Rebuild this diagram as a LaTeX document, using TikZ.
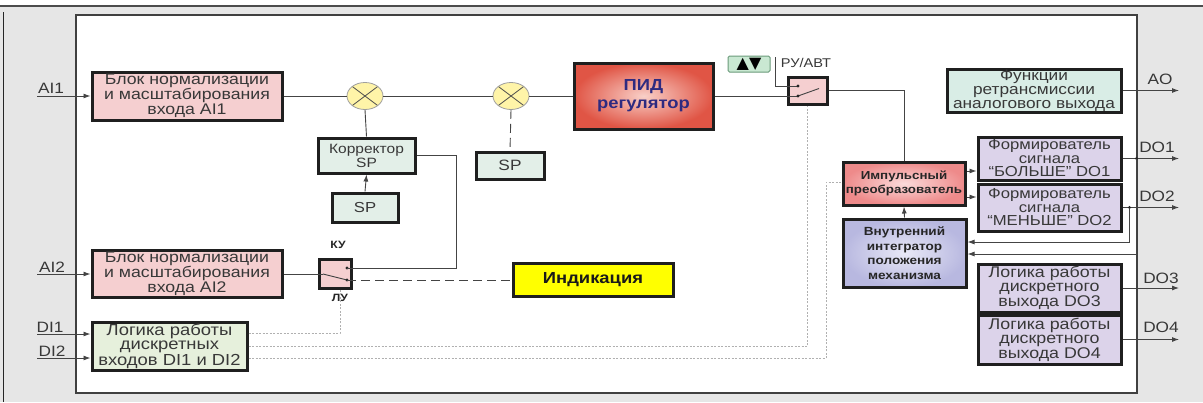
\documentclass[tikz,border=0pt]{standalone}
\usepackage{fontspec}
\setmainfont{Liberation Sans}[FakeStretch=1.15]
\newfontfamily\symfont{DejaVu Sans}
\usetikzlibrary{arrows.meta,shapes.geometric,calc}
\definecolor{pinkA}{HTML}{F5CFD0}
\definecolor{mintA}{HTML}{E3EFE8}
\definecolor{diG}{HTML}{E6F0DC}
\definecolor{tealA}{HTML}{D9EDE6}
\definecolor{lavA}{HTML}{DCD3EA}
\definecolor{sumY}{HTML}{FFF4A8}
\definecolor{pidOut}{HTML}{E05545}
\definecolor{pidIn}{HTML}{F9D0C8}
\definecolor{impOut}{HTML}{EE8A8A}
\definecolor{impIn}{HTML}{FBDADA}
\definecolor{intOut}{HTML}{B8B8E0}
\definecolor{intIn}{HTML}{E8E8F6}
\definecolor{btnG}{HTML}{C9E8D2}
\definecolor{btnB}{HTML}{6A9A7A}
\definecolor{pidTxt}{HTML}{2E2A80}
\definecolor{bgG}{HTML}{E6E6E6}
\definecolor{lnG}{HTML}{444444}
\definecolor{dotG}{HTML}{B0B0B0}
\definecolor{indY}{HTML}{FFFF00}
\begin{document}
\begin{tikzpicture}[x=1pt,y=-1pt,
  blk/.style={draw=black!88, line width=3pt, align=center, inner sep=0pt,
    font=\fontsize{15.4}{15}\selectfont, text=black!78},
  sblk/.style={blk, font=\fontsize{14.5}{13.5}\selectfont},
  bblk/.style={blk, font=\bfseries\fontsize{11.6}{14.5}\selectfont, text=black!85},
  sumj/.style={ellipse, draw=gray!75, line width=0.8pt, fill=sumY, minimum width=36, minimum height=27, inner sep=0pt,
    path picture={\draw[gray!60!black, line width=0.8pt]
      (path picture bounding box.north west) -- (path picture bounding box.south east)
      (path picture bounding box.south west) -- (path picture bounding box.north east);}},
  conn/.style={draw=lnG, line width=0.9pt},
  arr/.style={conn, -{Latex[length=7pt,width=5pt]}},
  dotl/.style={draw=dotG, line width=0.8pt, dash pattern=on 2pt off 1.5pt},
  dashl/.style={draw=lnG, line width=0.9pt, dash pattern=on 9pt off 5pt},
  lbl/.style={font=\fontsize{15}{15}\selectfont, text=black!78, inner sep=0pt},
  klbl/.style={font=\bfseries\fontsize{10.6}{11}\selectfont, text=black!85, inner sep=0pt},
  dotc/.style={fill=black!85}
]
\useasboundingbox (0,0) rectangle (1203,402);
% background frame
\fill[bgG] (0,0) rectangle (1203,402);
\fill[white] (0,0) rectangle (1203,5);
\draw[black!70, line width=2pt] (0,6) -- (1203,6);
\draw[black!85, line width=0.8pt] (3,12) -- (3,402);
\draw[black!75, line width=1.2pt, fill=white] (76,15) rectangle (1137,393);

% blocks
\node[blk, fill=pinkA, minimum width=190, minimum height=48] (ai1) at (187,96) {Блок нормализации\\и масштабирования\\входа AI1};
\node[blk, fill=pinkA, minimum width=190, minimum height=47] (ai2) at (187,274) {Блок нормализации\\и масштабирования\\входа AI2};
\node[blk, fill=diG, minimum width=155, minimum height=48, font=\fontsize{16}{14}\selectfont] (di) at (169.5,346) {Логика работы\\дискретных\\входов DI1 и DI2};
\node[sumj] (s1) at (365,96) {};
\node[sumj] (s2) at (511,96) {};
\node[blk, fill=mintA, minimum width=97, minimum height=35, font=\fontsize{13.5}{14}\selectfont] (kor) at (366.5,155.5) {Корректор\\SP};
\node[blk, fill=mintA, minimum width=66, minimum height=29, font=\fontsize{14.5}{14}\selectfont] (sp1) at (365,207.5) {SP};
\node[blk, fill=mintA, minimum width=68, minimum height=27, font=\fontsize{15}{14}\selectfont] (sp2) at (510,165.5) {SP};
\node[blk, minimum width=139, minimum height=66, inner color=pidIn, outer color=pidOut,
  font=\bfseries\fontsize{16}{18}\selectfont, text=pidTxt] (pid) at (643.5,96) {ПИД\\регулятор};
\node[blk, fill=pinkA, minimum width=39, minimum height=27] (sw1) at (807.5,90.5) {};
\node[draw=btnB, line width=1pt, rounded corners=1.5pt, fill=btnG, minimum width=42, minimum height=16, inner sep=0pt,
  font=\symfont\fontsize{16}{16}\selectfont, text=black] (btn) at (749,64) {▲▼};
\node[lbl, font=\fontsize{12.7}{13}\selectfont] (ruavt) at (806,63) {РУ/АВТ};
\node[blk, fill=pinkA, minimum width=32, minimum height=29] (sw2) at (335,274) {};
\node[klbl] (kul) at (338,245) {КУ};
\node[klbl] (lul) at (340,298) {ЛУ};
\node[blk, fill=indY, minimum width=160, minimum height=33, font=\bfseries\fontsize{16}{16}\selectfont, text=black!90] (ind) at (593,280) {Индикация};
\node[sblk, fill=tealA, minimum width=174, minimum height=43, font=\fontsize{15}{14.2}\selectfont] (fn) at (1034,90.5) {Функции\\ретрансмиссии\\аналогового выхода};
\node[sblk, fill=lavA, minimum width=143, minimum height=43] (do1) at (1049.5,158.5) {Формирователь\\сигнала\\“БОЛЬШЕ” DO1};
\node[sblk, fill=lavA, minimum width=143, minimum height=47] (do2) at (1049.5,207.5) {Формирователь\\сигнала\\“МЕНЬШЕ” DO2};
\node[sblk, fill=lavA, minimum width=143, minimum height=48, font=\fontsize{15.5}{14}\selectfont] (do3) at (1049.5,288) {Логика работы\\дискретного\\выхода DO3};
\node[sblk, fill=lavA, minimum width=143, minimum height=49, font=\fontsize{15.5}{14}\selectfont] (do4) at (1049.5,339.5) {Логика работы\\дискретного\\выхода DO4};
\node[bblk, minimum width=122, minimum height=43, inner color=impIn, outer color=impOut] (imp) at (904,183.5) {Импульсный\\преобразователь};
\node[bblk, minimum width=123, minimum height=68, inner color=intIn, outer color=intOut, font=\bfseries\fontsize{11.8}{14.6}\selectfont] (integ) at (904.5,253) {Внутренний\\интегратор\\положения\\механизма};

% labels
\node[lbl] (lai1) at (51,88) {AI1};
\node[lbl] (lai2) at (52,267) {AI2};
\node[lbl] (ldi1) at (50,327) {DI1};
\node[lbl] (ldi2) at (52,351) {DI2};
\node[lbl] (lao) at (1160,79) {AO};
\node[lbl] (ldo1) at (1157,147) {DO1};
\node[lbl] (ldo2) at (1157,196) {DO2};
\node[lbl] (ldo3) at (1161,278) {DO3};
\node[lbl] (ldo4) at (1161,327) {DO4};

% helper coordinates
\coordinate (xin) at (37,0);
\coordinate (xout) at (1179,0);
\coordinate (ra) at (798,86);
\coordinate (rb) at (798,96);
\coordinate (rblade) at (819,88.5);
\coordinate (rtop) at (775,57);
\coordinate (ku) at (347,268);
\coordinate (lu) at (347,280);
\coordinate (kblade) at (323,274);
\coordinate (kc) at (456,155.5);
\coordinate (d1) at ($(di.east)+(0,-13)$);
\coordinate (d3) at ($(di.east)+(0,12)$);
\coordinate (dc) at (826,182);
\coordinate (impw) at ($(imp.west)+(0,-1.5)$);
\coordinate (im1) at ($(imp.east)+(0,-12.5)$);
\coordinate (im2) at ($(imp.east)+(0,13.5)$);
\coordinate (j1) at ($(do1.east)+(14,0)$);
\coordinate (j2) at ($(do2.east)+(7,0)$);
\coordinate (ig1) at ($(integ.east)+(0,1)$);
\coordinate (ig2) at ($(integ.east)+(0,-11)$);
\coordinate (ai1p) at (ai1.west -| xin);
\coordinate (ai2p) at (ai2.west -| xin);
\coordinate (di1t) at ($(di.west)+(0,-12)$);
\coordinate (di2t) at ($(di.west)+(0,12)$);
\coordinate (di1p) at (di1t -| xin);
\coordinate (di2p) at (di2t -| xin);
\coordinate (sw2b) at ($(sw2.south)+(5,0)$);

% inputs
\draw[arr] (ai1p) -- (ai1.west);
\draw[arr] (ai2p) -- (ai2.west);
\draw[arr] (di1p) -- (di1t);
\draw[arr] (di2p) -- (di2t);

% main path
\draw[conn] (ai1.east) -- (s1.west);
\draw[conn] (s1.east) -- (s2.west);
\draw[conn] (s2.east) -- (pid.west);
\draw[conn] (s1.south) -- (kor.north);
\draw[arr] (sp1.north) -- (kor.south);
\draw[dashl] (s2.south) -- (sp2.north);
\draw[conn] (pid.east) -- (rb);
\draw[conn] (rtop) |- (ra);
\draw[conn] (rb) -- (rblade);
\fill[dotc] (ra) circle (1.6);
\fill[dotc] (rb) circle (1.6);
\draw[conn] (sw1.east) -| (imp.north);

% AI2 switch
\draw[conn] (ai2.east) -- (kblade);
\draw[conn] (kblade) -- (lu);
\fill[dotc] (ku) circle (1.6);
\fill[dotc] (lu) circle (1.6);
\draw[conn] (ku) -| (kc) -- (kor.east);
\draw[dashl] (lu) -- (ind.west);

% DI dotted lines
\draw[dotl] (d1) -| (sw2b);
\draw[dotl] (di.east) -| (sw1.south);
\draw[dotl] (d3) -| (dc) -- (impw);

% right part
\draw[arr] (integ.north) -- (imp.south);
\draw[arr] (im1) -- (im1 -| do1.west);
\draw[arr] (im2) -- (im2 -| do2.west);
\draw[arr] (fn.east) -- (fn.east -| xout);
\draw[arr] (do1.east) -- (do1.east -| xout);
\draw[arr] (do2.east) -- (do2.east -| xout);
\draw[arr] (do3.east) -- (do3.east -| xout);
\draw[arr] (do4.east) -- (do4.east -| xout);
\fill[dotc] (j1) circle (1.6);
\fill[dotc] (j2) circle (1.6);
\draw[arr] (j1) |- (ig1);
\draw[arr] (j2) |- (ig2);
\end{tikzpicture}
\end{document}
